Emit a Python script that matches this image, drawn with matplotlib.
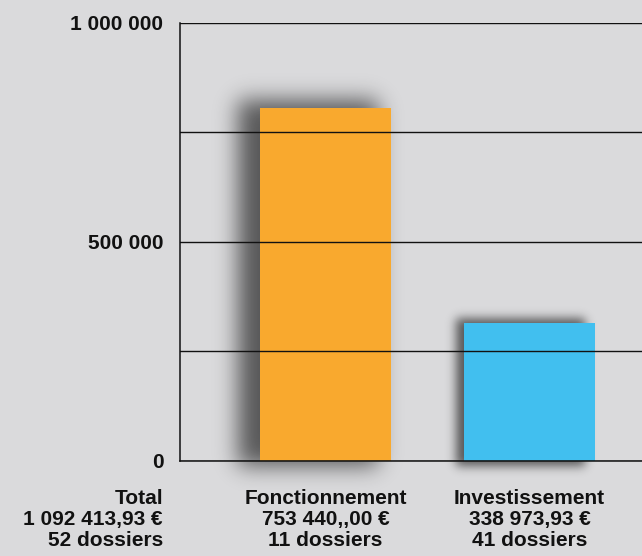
import math
import numpy as np
import matplotlib
matplotlib.use("Agg")
import matplotlib.pyplot as plt
from matplotlib.ticker import FuncFormatter, MultipleLocator
from matplotlib.transforms import blended_transform_factory

# data
categories = ["Fonctionnement", "Investissement"]
heights = [805000, 314000]          # bar heights as drawn
amounts = ["753 440,,00 €", "338 973,93 €"]
dossiers = [11, 41]
total_amount = "1 092 413,93 €"
total_dossiers = 52
colors = ["#F9A92E", "#41BFEF"]

W, H = 642, 556
BG = "#DADADC"
INK = "#111111"
plt.rcParams["font.family"] = ["Liberation Sans", "DejaVu Sans"]

fig = plt.figure(figsize=(W / 100, H / 100), dpi=100, facecolor=BG)
ax = fig.add_axes([180 / W, (H - 461) / H, (W - 180) / W, (461 - 22.5) / H])
ax.set_facecolor("none")

x = np.arange(len(categories))
ax.set_xlim(-0.713, 1.551)
ax.set_ylim(0, 1_000_000)
bars = ax.bar(x, heights, width=0.642, color=colors, zorder=1)

for s in ("top", "right"):
    ax.spines[s].set_visible(False)
for s in ("left", "bottom"):
    ax.spines[s].set_color(INK)
    ax.spines[s].set_linewidth(1.1)

ax.yaxis.set_major_locator(MultipleLocator(500000))
ax.yaxis.set_minor_locator(MultipleLocator(250000))
ax.yaxis.set_major_formatter(FuncFormatter(lambda v, p: f"{int(v):,}".replace(",", " ")))
ax.grid(axis="y", which="both", color=INK, lw=1.0)
ax.set_axisbelow(False)
ax.tick_params(axis="y", which="both", length=0, pad=12, labelsize=15,
               labelcolor=INK)
for lbl in ax.get_yticklabels():
    lbl.set_fontweight("bold")
ax.set_xticks([])

# soft drop shadow behind the bars (pixel space)
# left shift, right shift, top shift, bottom extension, blur sigma
shadow_style = [(-22, -13, -8, 5, 11), (-8, -10, -5, 5, 5)]
phi = np.vectorize(lambda t: 0.5 * (1 + math.erf(t / math.sqrt(2))))
xs = np.arange(W) + 0.5
ys = np.arange(H) + 0.5
keep = np.ones((H, W))
for bar, (dl, dr, dt, db, sig) in zip(bars, shadow_style):
    (x0, y0), (x1, y1) = ax.transData.transform(
        [[bar.get_x(), 0], [bar.get_x() + bar.get_width(), bar.get_height()]])
    top, bot = H - y1, H - y0
    px = phi((xs - (x0 + dl)) / sig) - phi((xs - (x1 + dr)) / sig)
    py = phi((ys - (top + dt)) / sig) - phi((ys - (bot + db)) / sig)
    keep *= 1 - 0.6 * np.outer(py, px)
shadow = np.zeros((H, W, 4))
shadow[..., 3] = 1 - keep
fig.figimage(shadow, xo=0, yo=0, origin="upper", zorder=-1)

# category labels under the bars
trans = blended_transform_factory(ax.transData, fig.transFigure)
ty = (H - 489) / H
for xi, cat, amt, n in zip(x, categories, amounts, dossiers):
    ax.text(xi, ty, f"{cat}\n{amt}\n{n} dossiers", transform=trans,
            ha="center", va="top", multialignment="center",
            fontsize=15, fontweight="bold", color=INK, linespacing=1.15,
            clip_on=False)

fig.text(163 / W, ty, f"Total\n{total_amount}\n{total_dossiers} dossiers",
         ha="right", va="top", multialignment="right",
         fontsize=15, fontweight="bold", color=INK, linespacing=1.15)

fig.savefig("out.png", dpi=100, facecolor=BG)
